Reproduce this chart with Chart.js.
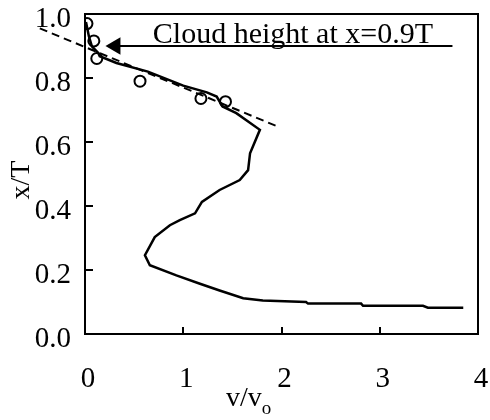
<!DOCTYPE html>
<html>
<head>
<meta charset="utf-8">
<script src="https://cdn.jsdelivr.net/npm/chart.js@4/dist/chart.umd.min.js"></script>
<style>
  html, body { margin: 0; padding: 0; background: #fff; }
  #c { display: block; }
</style>
</head>
<body>
<canvas id="c" width="490" height="420"></canvas>
<script>
// Velocity profile v/vo against relative height x/T
const profileV = [0.01, 0.04, 0.07, 0.135, 0.15, 0.32, 0.64, 1.0, 1.24, 1.34, 1.40, 1.54, 1.78, 1.68, 1.66, 1.575, 1.37, 1.19, 1.12, 0.965, 0.864, 0.71, 0.61, 0.66, 0.93, 1.17, 1.37, 1.61, 1.81, 2.25, 2.27, 2.81, 2.83, 3.44, 3.49, 3.85];
const profileH = [0.975, 0.93, 0.899, 0.878, 0.868, 0.847, 0.82, 0.776, 0.755, 0.742, 0.711, 0.69, 0.638, 0.565, 0.512, 0.481, 0.45, 0.413, 0.377, 0.356, 0.34, 0.303, 0.246, 0.215, 0.183, 0.157, 0.136, 0.112, 0.105, 0.1, 0.095, 0.095, 0.088, 0.088, 0.082, 0.082];

// Measured points (open circles)
const measuredV = [0.02, 0.09, 0.12, 0.56, 1.18, 1.43];
const measuredH = [0.97, 0.916, 0.861, 0.79, 0.736, 0.726];

// Dashed trend line near the cloud top
const trendV = [-0.46, 1.98];
const trendH = [0.955, 0.646];

// Cloud-height arrow
const cloudHeight = 0.9;
const arrowV = [3.74, 0.31];

const xTicks = [0, 1, 2, 3, 4];
const yTicks = [0.0, 0.2, 0.4, 0.6, 0.8, 1.0];

const pts = (xs, ys) => xs.map((v, i) => ({ x: v, y: ys[i] }));

const SERIF = '"Liberation Serif", "DejaVu Serif", serif';

const decor = {
  id: 'decor',
  afterDraw(chart) {
    const { ctx, chartArea: a, scales: { x, y } } = chart;
    ctx.save();
    ctx.strokeStyle = '#000';
    ctx.lineWidth = 2;
    ctx.strokeRect(a.left, a.top, a.right - a.left, a.bottom - a.top);

    // inward tick marks
    ctx.beginPath();
    y.ticks.forEach(t => {
      const py = Math.round(y.getPixelForValue(t.value));
      ctx.moveTo(a.left, py); ctx.lineTo(a.left + 8, py);
    });
    x.ticks.forEach(t => {
      const px = Math.round(x.getPixelForValue(t.value));
      ctx.moveTo(px, a.bottom); ctx.lineTo(px, a.bottom - 7);
    });
    ctx.stroke();

    ctx.fillStyle = '#000';
    // annotation text above the arrow
    const ly = y.getPixelForValue(cloudHeight);
    ctx.font = '30px ' + SERIF;
    ctx.textAlign = 'left';
    ctx.textBaseline = 'alphabetic';
    ctx.fillText('Cloud height at x=0.9T', x.getPixelForValue(0.69), ly - 3);

    // y axis title
    ctx.save();
    ctx.translate(29, (a.top + a.bottom) / 2 + 6);
    ctx.rotate(-Math.PI / 2);
    ctx.font = '28px ' + SERIF;
    ctx.textAlign = 'center';
    ctx.fillText('x/T', 0, 0);
    ctx.restore();

    // x axis title with subscript
    ctx.font = '28px ' + SERIF;
    ctx.textAlign = 'left';
    const main = 'v/v';
    const w = ctx.measureText(main).width;
    const sx = 226;
    ctx.fillText(main, sx, 406);
    ctx.font = '19px ' + SERIF;
    ctx.fillText('o', sx + w, 414);
    ctx.restore();
  }
};

new Chart(document.getElementById('c'), {
  type: 'scatter',
  data: {
    datasets: [
      {
        label: 'profile',
        data: pts(profileV, profileH),
        showLine: true,
        borderColor: '#000',
        borderWidth: 2.5,
        pointRadius: 0,
        tension: 0
      },
      {
        label: 'trend',
        data: pts(trendV, trendH),
        showLine: true,
        borderColor: '#000',
        borderWidth: 2,
        borderDash: [8, 5],
        pointRadius: 0,
        clip: false
      },
      {
        label: 'measured',
        data: pts(measuredV, measuredH),
        showLine: false,
        pointStyle: 'circle',
        pointRadius: 5.5,
        borderColor: '#000',
        borderWidth: 2,
        backgroundColor: 'rgba(0,0,0,0)'
      },
      {
        label: 'arrow',
        data: pts(arrowV, arrowV.map(() => cloudHeight)),
        showLine: true,
        borderColor: '#000',
        borderWidth: 2,
        pointStyle: 'triangle',
        rotation: -90,
        pointRadius: [0, 10],
        backgroundColor: '#000',
        pointBorderWidth: 0,
        clip: false
      }
    ]
  },
  options: {
    responsive: false,
    animation: false,
    events: [],
    layout: { autoPadding: false, padding: { left: 0, top: 14, right: 12, bottom: 0 } },
    plugins: { legend: { display: false }, tooltip: { enabled: false } },
    scales: {
      x: {
        type: 'linear',
        min: 0, max: 4,
        afterFit: s => { s.height = 86; s.paddingLeft = 0; s.paddingRight = 0; },
        afterBuildTicks: s => { s.ticks = xTicks.map(v => ({ value: v })); },
        grid: { display: false, drawTicks: false },
        border: { display: false },
        ticks: {
          padding: 28,
          labelOffset: 3,
          color: '#000',
          font: { family: SERIF, size: 29 },
          callback: v => String(v)
        }
      },
      y: {
        type: 'linear',
        min: 0, max: 1,
        afterFit: s => { s.width = 85; s.paddingTop = 0; s.paddingBottom = 0; },
        afterBuildTicks: s => { s.ticks = yTicks.map(v => ({ value: v })); },
        grid: { display: false, drawTicks: false },
        border: { display: false },
        ticks: {
          padding: 14,
          labelOffset: 5,
          color: '#000',
          font: { family: SERIF, size: 29 },
          callback: v => v.toFixed(1)
        }
      }
    }
  },
  plugins: [decor]
});
</script>
</body>
</html>
